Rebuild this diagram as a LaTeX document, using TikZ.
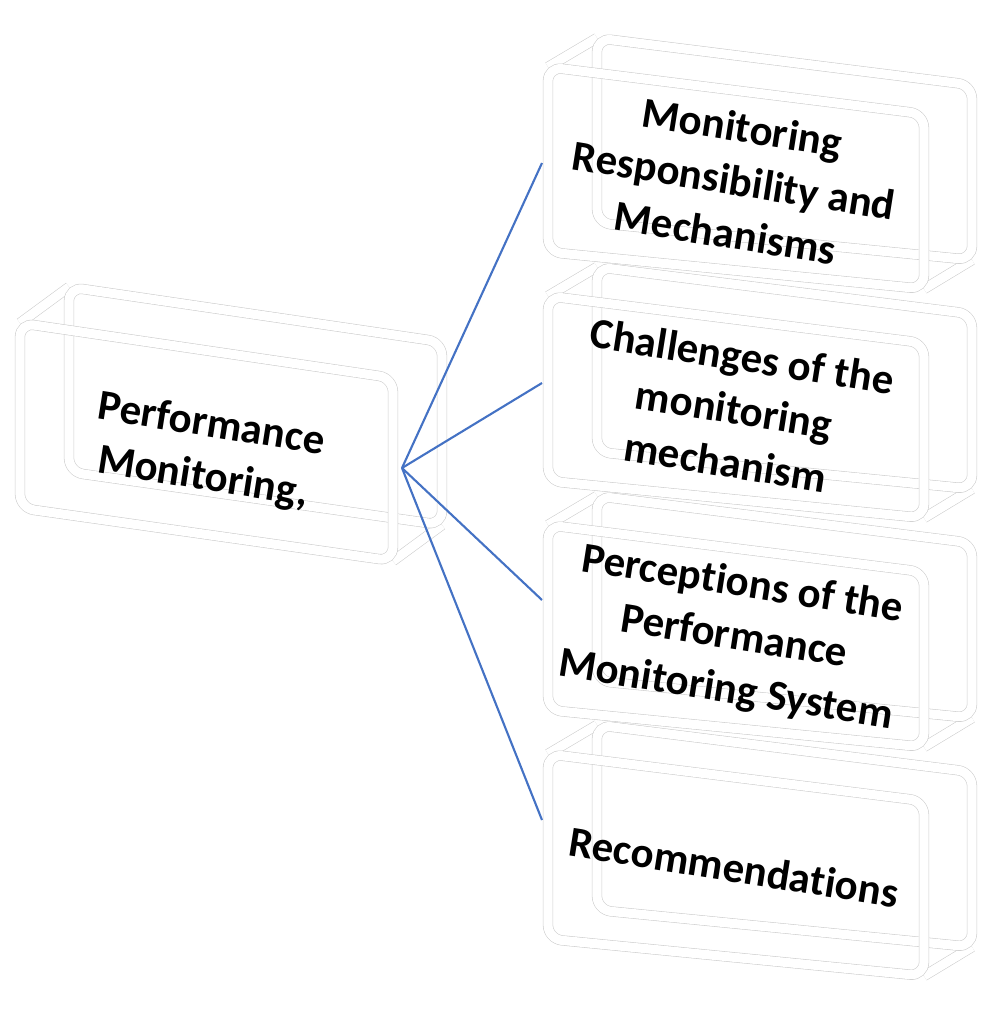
\documentclass[tikz,border=0pt]{standalone}
\usepackage{fontspec}
\setmainfont{Carlito}[Ligatures=NoCommon]

\definecolor{linkblue}{HTML}{4472C4}

\tikzset{%
  face/.style={
    draw=gray!40,
    line width=0.4pt,
    double=white,
    double distance=6.5pt,
    rounded corners=0.35cm
  },
  bevel/.style={
    draw=gray!40,
    line width=0.4pt,
    double=white,
    double distance=6.5pt
  },
  topic/.style={
    align=center,
    rotate=-9,
    inner sep=0pt,
    font=\bfseries\fontsize{30.5}{38}\selectfont
  },
  link/.style={
    draw=linkblue,
    line width=1.5pt
  },
}

\begin{document}
\begin{tikzpicture}[x=0.025cm, y=-0.025cm]
\useasboundingbox (0,0) rectangle (1000,1015);


% Kasten links
\draw[bevel] (69,287) -- (20,323);
\draw[bevel] (442,525) -- (393,561);
\draw[face] (69,287) -- (442,342) -- (442,525) -- (69,472) -- cycle;
\draw[face] (20,323) -- (393,378) -- (393,561) -- (20,508) -- cycle;


% Kaesten rechts
\foreach \i in {1,...,4} {
  \begin{scope}[shift={(0,{(\i-1)*229})}]
    \draw[bevel] (597,38) -- (548,67);
    \draw[bevel] (972,260) -- (924,289);
    \draw[face] (597,38) -- (972,85) -- (972,260) -- (597,223) -- cycle;
    \draw[face] (548,67) -- (924,114) -- (924,289) -- (548,252) -- cycle;
  \end{scope}
}


% Beschriftungen
\node[topic] (pm) at (207,452) {Performance\\Monitoring,};

\foreach \t [count=\i] in {%
    {Monitoring\\Responsibility and\\Mechanisms},
    {Challenges of the\\monitoring\\mechanism},
    {Perceptions of the\\Performance\\Monitoring System},
    {Recommendations}}
  \node[topic] (topic-\i) at (734,{180+(\i-1)*229}) {\t};


% Verbindungen
\coordinate (pm-hub) at (402,468);

\foreach \y [count=\i] in {163,383,600,820}
  \coordinate (topic-\i-in) at (542,\y);

\foreach \i in {1,...,4}
  \draw[link] (pm-hub) -- (topic-\i-in);

\end{tikzpicture}
\end{document}
